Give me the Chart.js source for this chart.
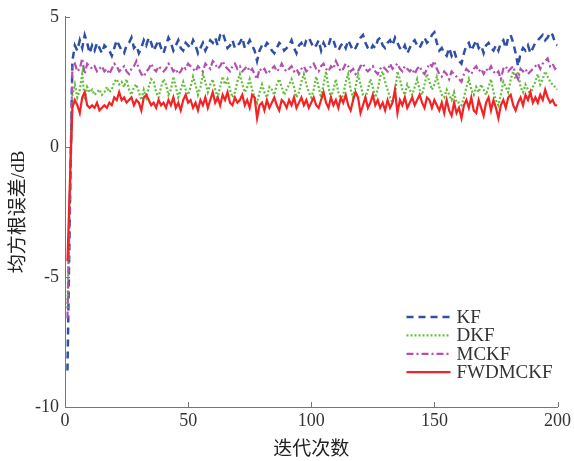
<!DOCTYPE html>
<html>
<head>
<meta charset="utf-8">
<script src="https://cdn.jsdelivr.net/npm/chart.js@4.4.0/dist/chart.umd.min.js"></script>
<style>
  html, body { margin: 0; padding: 0; background: #fff; }
  #wrap { width: 574px; height: 461px; }
</style>
</head>
<body>
<div id="wrap"><canvas id="c"></canvas></div>
<script>
const iterations = Array.from({ length: 200 }, (_, i) => i + 1)

const kf = [
  -8.6, -2.4, 3.3, 3.9, 3.7, 4.1, 3.8, 4.3, 4.0, 3.6,
  3.9, 3.7, 4.0, 3.8, 3.6, 3.9, 3.8, 3.7, 3.5, 3.8,
  4.1, 3.9, 3.7, 3.6, 3.9, 4.0, 4.2, 3.8, 3.9, 3.6,
  3.8, 4.1, 3.9, 4.2, 4.0, 3.7, 3.9, 4.1, 3.8, 3.6,
  3.9, 4.2, 4.0, 3.7, 3.9, 4.1, 3.8, 3.7, 4.0, 3.9,
  3.8, 4.1, 3.9, 3.6, 3.8, 4.0, 3.7, 3.9, 4.1, 4.0,
  4.2, 3.9, 4.3, 4.4, 4.1, 3.8, 3.9, 4.1, 3.8, 3.9,
  4.0, 4.2, 3.8, 3.9, 4.1, 3.9, 3.7, 3.3, 3.7, 3.9,
  3.8, 4.0, 3.9, 3.7, 3.6, 3.8, 4.0, 3.9, 3.7, 3.8,
  3.9, 4.1, 3.8, 3.6, 3.9, 4.0, 3.8, 4.1, 4.2, 4.0,
  3.8, 3.9, 4.1, 3.7, 4.0, 3.8, 3.9, 4.2, 4.1, 3.8,
  3.7, 3.9, 4.0, 3.8, 4.1, 3.9, 3.7, 3.8, 4.0, 4.2,
  4.3, 4.0, 3.8, 3.7, 3.9, 3.8, 4.1, 4.2, 3.9, 3.8,
  4.0, 4.1, 3.9, 4.2, 4.0, 3.8, 3.7, 3.9, 3.6, 3.8,
  4.0, 4.1, 3.9, 3.8, 4.0, 4.2, 4.0, 4.1, 4.3, 4.4,
  4.0, 3.7, 3.8, 3.6, 3.5, 3.8, 3.5, 3.7, 3.4, 3.3,
  3.2, 3.6, 3.9, 4.0, 3.7, 3.9, 4.1, 3.8, 3.9, 3.6,
  3.9, 4.0, 3.8, 3.7, 3.9, 3.7, 4.0, 4.1, 3.8, 4.2,
  4.3, 4.0, 3.6, 3.1, 3.6, 3.8, 3.7, 3.9, 3.6, 3.8,
  4.0, 4.1, 4.2, 4.3, 4.1, 4.2, 4.4, 4.3, 4.0, 3.9
]

const dkf = [
  -6.2, -1.7, 2.0, 2.4, 1.9, 2.2, 2.8, 1.8, 2.3, 2.1,
  2.2, 2.0, 2.1, 2.2, 2.0, 2.1, 2.3, 2.1, 2.2, 2.5,
  2.6, 2.4, 2.5, 2.3, 2.6, 2.2, 2.0, 2.3, 2.4, 2.1,
  1.8, 2.2, 1.9, 2.3, 2.6, 2.5, 2.1, 1.9, 2.3, 2.6,
  2.4, 2.0, 2.2, 2.7, 2.3, 1.9, 2.2, 2.5, 2.2, 2.0,
  2.3, 2.7, 2.4, 2.0, 2.3, 2.8, 2.5, 2.1, 2.4, 2.6,
  2.2, 1.9, 2.3, 2.7, 2.4, 2.6, 2.2, 1.9, 2.1, 2.5,
  2.8, 2.4, 2.1, 2.3, 2.6, 2.2, 1.9, 1.7, 2.1, 2.4,
  2.1, 1.9, 2.3, 2.2, 2.0, 2.4, 2.6, 2.3, 2.0, 2.2,
  2.4, 2.6, 2.3, 1.9, 2.1, 2.5, 2.8, 2.4, 2.1, 1.9,
  2.2, 2.7, 2.3, 1.9, 2.4, 2.9, 2.3, 1.9, 2.2, 2.6,
  2.1, 1.8, 2.0, 2.5, 2.8, 2.2, 1.9, 2.3, 2.8, 2.4,
  2.0, 1.9, 2.2, 2.6, 2.3, 1.9, 2.2, 2.7, 2.9, 2.5,
  2.2, 1.9, 1.7, 2.0, 2.9, 2.6, 2.2, 2.0, 2.4, 2.2,
  2.0, 2.3, 2.6, 2.2, 2.0, 2.4, 2.8, 2.5, 2.2, 2.4,
  2.7, 2.3, 2.0, 1.9, 2.2, 2.0, 1.8, 2.1, 1.7, 1.7,
  1.6, 1.9, 2.3, 2.6, 2.2, 2.0, 2.3, 2.1, 2.4, 2.2,
  2.0, 2.3, 2.6, 2.1, 1.8, 1.6, 2.0, 2.5, 2.3, 2.1,
  2.6, 2.9, 2.6, 2.9, 2.3, 2.1, 2.4, 2.2, 2.0, 2.3,
  2.5, 2.8, 2.4, 2.6, 2.9, 2.7, 2.5, 2.4, 2.3, 2.2
]

const mckf = [
  -6.6, -1.9, 3.1, 3.2, 2.9, 3.0, 3.4, 2.8, 3.2, 3.1,
  3.0, 3.1, 2.9, 3.0, 3.1, 2.9, 3.0, 2.8, 3.0, 3.2,
  3.1, 2.9, 3.0, 3.1, 2.9, 2.8, 3.0, 3.1, 3.3, 3.0,
  2.8, 2.7, 2.9, 3.0, 3.2, 3.0, 2.9, 3.1, 3.0, 2.9,
  3.0, 3.2, 3.1, 2.9, 3.0, 2.8, 2.9, 3.1, 3.0, 3.2,
  3.1, 3.0, 2.9, 3.1, 3.0, 2.9, 3.2, 3.1, 3.0, 3.3,
  3.2, 3.0, 3.1, 3.3, 3.1, 3.0, 2.9, 3.1, 3.2, 3.0,
  3.1, 2.9, 3.0, 3.1, 2.9, 3.0, 2.8, 2.6, 3.0, 2.9,
  3.0, 2.8, 2.9, 3.0, 3.1, 2.9, 3.0, 3.2, 3.0, 2.9,
  3.0, 3.1, 2.9, 3.0, 2.8, 3.0, 3.1, 2.9, 3.0, 3.1,
  3.2, 3.0, 2.9, 3.1, 3.2, 3.0, 2.9, 3.1, 3.0, 3.3,
  3.1, 2.9, 3.0, 3.2, 3.1, 2.9, 3.0, 2.8, 2.9, 3.1,
  3.2, 3.0, 2.9, 3.0, 3.1, 2.9, 2.8, 3.0, 3.1, 3.0,
  2.9, 3.2, 3.0, 3.1, 3.2, 3.0, 2.9, 3.1, 3.0, 2.9,
  3.0, 2.8, 3.0, 3.1, 2.9, 2.8, 3.0, 3.2, 3.1, 3.3,
  3.0, 2.8, 2.7, 2.9, 2.8, 2.6, 2.9, 2.8, 2.7, 2.6,
  2.5, 2.8, 3.0, 2.9, 2.8, 3.0, 3.1, 2.9, 3.0, 2.8,
  3.0, 2.9, 3.1, 2.9, 2.8, 2.9, 2.6, 3.0, 3.1, 2.9,
  3.0, 3.1, 2.8, 2.6, 3.0, 2.9, 3.0, 2.8, 2.9, 3.0,
  3.1, 3.2, 3.0, 3.2, 3.3, 3.4, 3.1, 3.2, 3.0, 3.1
]

const fwdmckf = [
  -4.4, -1.3, 1.5, 1.8, 1.6, 1.3, 1.9, 2.1, 1.6, 1.5,
  1.6, 1.5, 1.7, 1.4, 1.5, 1.6, 1.5, 1.7, 1.6, 1.9,
  1.8, 2.1, 1.8, 1.9, 1.7, 1.8, 1.9, 1.6, 1.8, 1.7,
  1.4, 1.9, 2.0, 1.8, 1.6, 1.7, 1.5, 1.8, 1.6, 1.7,
  1.5, 1.8, 1.6, 1.9, 1.5, 1.7, 1.4, 1.8, 2.0, 1.7,
  1.8, 1.5, 1.7, 1.4, 1.8, 1.6, 1.9, 1.5, 1.8, 2.1,
  1.7, 1.9, 1.6, 2.0, 1.8, 2.1, 1.7, 1.6, 1.9, 1.7,
  1.8, 2.0, 1.6, 1.8, 1.5, 2.0, 1.9, 1.1, 1.6, 1.7,
  1.4, 1.8, 1.5, 1.7, 1.9, 1.6, 1.4, 1.8, 1.7, 1.5,
  1.8, 1.6, 1.9, 1.5, 1.7, 1.9, 1.6, 1.8, 1.5, 1.7,
  1.9, 1.6, 1.5, 1.8, 2.1, 1.7, 1.5, 1.9, 1.6, 1.8,
  1.5, 1.9, 1.7, 2.0, 1.6, 1.4, 1.8, 2.1, 1.9, 1.3,
  1.6, 1.9, 1.5, 1.7, 2.0, 1.6, 1.8, 1.5, 1.7, 1.4,
  1.8, 1.5, 1.7, 2.2, 1.3, 1.8, 1.6, 1.9, 1.5, 1.7,
  1.9, 1.6, 1.8, 2.0, 1.7, 1.5, 1.9, 1.8, 1.5, 1.8,
  1.6, 1.4, 1.7, 1.3, 1.8, 1.4, 1.2, 1.7, 1.3, 1.5,
  1.1, 1.6, 1.8, 1.5, 1.9, 1.4, 1.3, 1.8, 1.5, 1.2,
  1.7, 1.9, 1.4, 1.8, 1.5, 1.1, 1.6, 1.8, 1.5, 1.9,
  2.0, 1.6, 1.4, 1.7, 1.9, 1.6, 2.0, 1.8, 2.1, 1.7,
  1.9, 1.7, 2.0, 1.8, 2.2, 1.9, 1.7, 1.8, 1.6, 1.6
]

const xTicks = [0, 50, 100, 150, 200]
const yTicks = [-10, -5, 0, 5]

const serif = "'Liberation Serif', 'Times New Roman', serif"
const cjk = "'Liberation Serif', 'Noto Sans CJK SC', serif"

function toPoints(values) {
  return values.map((v, i) => ({ x: iterations[i], y: v }))
}

function makeSet(label, values, color, dash, width, order) {
  return {
    label: label,
    data: toPoints(values),
    borderColor: color,
    backgroundColor: color,
    borderDash: dash,
    borderWidth: width,
    pointRadius: 0,
    tension: 0,
    fill: false,
    order: order
  }
}

// ticks drawn inward, like the original figure
const innerTicks = {
  id: "innerTicks",
  afterDraw(chart) {
    const ctx = chart.ctx
    const { left, bottom } = chart.chartArea
    ctx.save()
    ctx.strokeStyle = "#777"
    ctx.lineWidth = 1
    ctx.beginPath()
    xTicks.forEach(t => {
      const px = Math.round(chart.scales.x.getPixelForValue(t)) + 0.5
      ctx.moveTo(px, bottom)
      ctx.lineTo(px, bottom - 5)
    })
    yTicks.forEach(t => {
      const py = Math.round(chart.scales.y.getPixelForValue(t)) + 0.5
      ctx.moveTo(left, py)
      ctx.lineTo(left + 5, py)
    })
    ctx.stroke()
    ctx.restore()
  }
}

const lineLegend = {
  id: "lineLegend",
  afterDraw(chart) {
    const ctx = chart.ctx
    const { right, bottom } = chart.chartArea
    const x0 = right - 151
    const y0 = bottom - 90
    ctx.save()
    ctx.font = "19px " + serif
    ctx.textBaseline = "middle"
    ctx.fillStyle = "#333"
    chart.data.datasets.forEach((ds, i) => {
      const y = y0 + i * 18.4
      ctx.strokeStyle = ds.borderColor
      ctx.lineWidth = ds.borderWidth
      ctx.setLineDash(ds.borderDash)
      ctx.beginPath()
      ctx.moveTo(x0, y)
      ctx.lineTo(x0 + 44, y)
      ctx.stroke()
      ctx.setLineDash([])
      ctx.fillText(ds.label, x0 + 50, y + 1)
    })
    ctx.restore()
  }
}

new Chart(document.getElementById("c"), {
  type: "line",
  data: {
    datasets: [
      makeSet("KF", kf, "#2f4fa6", [7, 5], 2.5, 3),
      makeSet("DKF", dkf, "#62bf3a", [2, 2], 2.2, 2),
      makeSet("MCKF", mckf, "#b24fb0", [7, 3, 2, 3], 2.2, 1),
      makeSet("FWDMCKF", fwdmckf, "#f42222", [], 2.2, 0)
    ]
  },
  options: {
    responsive: true,
    maintainAspectRatio: false,
    animation: false,
    layout: { padding: { top: 15, right: 16, left: 0, bottom: 0 } },
    plugins: {
      legend: { display: false },
      tooltip: { enabled: false }
    },
    scales: {
      x: {
        type: "linear",
        min: 0,
        max: 200,
        afterFit: s => { s.height = 54 },
        afterBuildTicks: s => { s.ticks = xTicks.map(v => ({ value: v })) },
        grid: { drawOnChartArea: false, drawTicks: false },
        border: { display: true, color: "#777", width: 1 },
        ticks: {
          padding: 3,
          color: "#333",
          font: { family: serif, size: 18 },
          maxRotation: 0
        },
        title: {
          display: true,
          text: "迭代次数",
          color: "#222",
          font: { family: cjk, size: 19 },
          padding: { top: 0, bottom: 0 }
        }
      },
      y: {
        min: -10,
        max: 5,
        afterFit: s => { s.width = 65 },
        afterBuildTicks: s => { s.ticks = yTicks.map(v => ({ value: v })) },
        grid: { drawOnChartArea: false, drawTicks: false },
        border: { display: true, color: "#777", width: 1 },
        ticks: {
          padding: 6,
          color: "#333",
          font: { family: serif, size: 18 }
        },
        title: {
          display: true,
          text: "均方根误差/dB",
          color: "#222",
          font: { family: cjk, size: 19 },
          padding: { top: 8, bottom: 0 }
        }
      }
    }
  },
  plugins: [innerTicks, lineLegend]
})
</script>
</body>
</html>
